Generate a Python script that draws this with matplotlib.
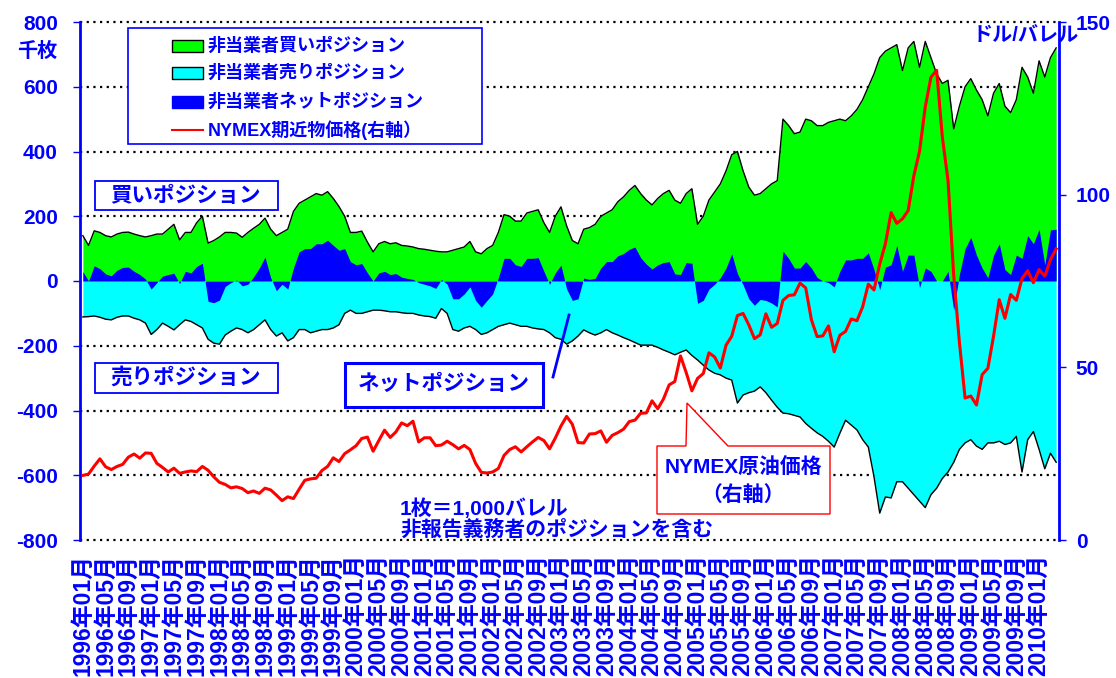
import matplotlib
matplotlib.use('Agg')
import matplotlib.pyplot as plt
from matplotlib.patches import Rectangle, Polygon
from matplotlib.lines import Line2D
import numpy as np

# ---------------- data (monthly, 1996-01 .. 2010-04), thousand contracts ----------------
long_pos = [
    140, 110, 155, 150, 140, 136, 145, 150, 151, 145, 140, 136,   # 1996
    140, 145, 145, 160, 175, 127, 150, 150, 180, 200, 117, 125,   # 1997
    136, 150, 150, 148, 135, 150, 163, 175, 194, 160, 140, 150,   # 1998
    160, 215, 240, 250, 260, 270, 265, 276, 255, 230, 200, 150,   # 1999
    150, 154, 120, 90, 115, 122, 115, 118, 110, 108, 105, 100,    # 2000
    98, 95, 92, 90, 90, 95, 100, 105, 122, 90, 84, 100,           # 2001
    110, 150, 205, 200, 185, 185, 210, 215, 220, 180, 150, 200,   # 2002
    229, 170, 125, 115, 160, 165, 175, 200, 210, 220, 245, 260,   # 2003
    280, 295, 270, 250, 235, 255, 270, 280, 250, 240, 270, 285,   # 2004
    175, 200, 250, 275, 300, 340, 390, 400, 340, 290, 265, 270,   # 2005
    285, 300, 310, 500, 480, 455, 460, 500, 495, 480, 480, 490,   # 2006
    495, 500, 495, 510, 530, 560, 600, 640, 690, 710, 720, 730,   # 2007
    650, 720, 740, 660, 740, 690, 640, 610, 620, 470, 540, 600,   # 2008
    625, 590, 560, 510, 580, 610, 540, 520, 560, 660, 630, 580,   # 2009
    680, 630, 690, 720,                                           # 2010
]
short_pos = [
    111, 110, 108, 112, 118, 120, 112, 108, 108, 115, 120, 130,
    165, 150, 130, 140, 151, 135, 120, 125, 135, 145, 180, 192,
    195, 167, 155, 145, 150, 160, 150, 135, 120, 150, 170, 160,
    185, 175, 150, 150, 160, 155, 150, 150, 145, 135, 100, 90,
    100, 100, 95, 90, 90, 92, 95, 95, 98, 100, 100, 105,
    108, 110, 115, 85, 100, 150, 155, 145, 140, 150, 165, 160,
    150, 140, 135, 130, 135, 140, 140, 145, 148, 150, 160, 175,
    180, 195, 185, 170, 151, 160, 167, 160, 150, 160, 167, 175,
    182, 190, 198, 198, 198, 205, 213, 220, 228, 220, 213, 230,
    244, 260, 275, 285, 290, 300, 306, 377, 352, 345, 340, 327,
    345, 368, 390, 408, 410, 415, 420, 440, 455, 469, 480, 495,
    513, 470, 430, 445, 460, 490, 513, 605, 717, 667, 670, 620,
    620, 640, 660, 680, 700, 660, 640, 610, 590, 560, 520, 500,
    490, 510, 520, 500, 500, 495, 505, 500, 480, 590, 490, 465,
    520, 580, 532, 560,
]
# NYMEX front-month crude price, USD/bbl
price = [
    18.7, 19.1, 21.4, 23.5, 21.2, 20.4, 21.3, 21.9, 24.0, 24.9, 23.7, 25.2,
    25.1, 22.2, 21.0, 19.7, 20.8, 19.3, 19.7, 20.0, 19.8, 21.3, 20.2, 18.3,
    16.7, 16.1, 15.1, 15.4, 14.9, 13.7, 14.2, 13.5, 15.0, 14.5, 13.0, 11.4,
    12.5, 12.0, 14.7, 17.3, 17.7, 17.9, 20.1, 21.3, 23.8, 22.7, 25.0, 26.1,
    27.3, 29.4, 29.8, 25.7, 28.8, 31.8, 29.7, 31.3, 33.9, 33.1, 34.4, 28.4,
    29.6, 29.6, 27.3, 27.5, 28.6, 27.6, 26.4, 27.4, 26.2, 22.2, 19.6, 19.4,
    19.7, 20.7, 24.5, 26.2, 27.0, 25.5, 27.0, 28.4, 29.7, 28.8, 26.4, 29.5,
    33.0, 35.8, 33.5, 28.2, 28.1, 30.7, 30.8, 31.6, 28.3, 30.3, 31.1, 32.1,
    34.3, 34.7, 36.7, 36.8, 40.3, 38.0, 40.8, 44.9, 45.9, 53.3, 48.5, 43.2,
    46.8, 48.2, 54.2, 53.0, 49.8, 56.4, 59.0, 65.0, 65.6, 62.3, 58.3, 59.4,
    65.5, 61.6, 62.7, 69.4, 70.8, 71.0, 74.4, 73.0, 63.8, 58.9, 59.1, 62.0,
    54.5, 59.3, 60.4, 64.0, 63.5, 67.5, 74.1, 72.4, 79.9, 85.8, 94.8, 91.7,
    93.0, 95.4, 105.5, 112.6, 125.4, 134.0, 136.0, 116.7, 104.1, 76.6, 57.3, 41.1,
    41.7, 39.1, 47.9, 49.7, 59.0, 69.6, 64.2, 71.1, 69.4, 75.7, 78.0, 74.5,
    78.3, 76.4, 81.2, 84.3,
]
tick_months = list(range(0, 172, 4))
tick_labels = [f"{1996 + t // 12}年{t % 12 + 1:02d}月" for t in tick_months]
left_ticks = list(range(-800, 801, 200))
right_ticks = [0, 50, 100, 150]

# ---------------- style ----------------
plt.rcParams['font.family'] = ['Liberation Sans', 'Noto Sans CJK JP']
plt.rcParams['font.weight'] = 'bold'
plt.rcParams['axes.unicode_minus'] = False
BLUE = '#0000FF'
W, H = 1116, 678

def fx(x):
    return x / W

def fy(y):
    return 1 - y / H

fig = plt.figure(figsize=(W / 100, H / 100), dpi=100)
ax = fig.add_axes([fx(80), fy(540), 979 / W, 518 / H])

m = np.arange(len(long_pos))
lp = np.array(long_pos, dtype=float)
sp = np.array(short_pos, dtype=float)
net = lp - sp

for v in left_ticks:
    if v == 0:
        continue
    ax.axhline(v, color='black', lw=1.6, ls=(0, (1, 2)), zorder=1, clip_on=False)

ax.fill_between(m, 0, lp, color='#00FF00', lw=0, zorder=2)
ax.fill_between(m, 0, -sp, color='#00FFFF', lw=0, zorder=2)
ax.fill_between(m, 0, net, color=BLUE, lw=0, zorder=3)
ax.plot(m, lp, color='black', lw=1.0, zorder=4)
ax.plot(m, -sp, color='black', lw=1.0, zorder=4)

ax.set_xlim(-0.5, len(m) - 0.5)
ax.set_ylim(-800, 800)
ax.set_yticks(left_ticks)
ax.set_yticklabels([str(v) for v in left_ticks])
ax.set_xticks(tick_months)
ax.set_xticklabels(tick_labels, rotation=90)
ax.tick_params(axis='y', colors=BLUE, labelcolor=BLUE, length=5, width=1,
               labelsize=15, pad=11)
ax.tick_params(axis='x', length=0, pad=10, labelsize=16.5, labelcolor=BLUE)
for s in ['top', 'bottom', 'right']:
    ax.spines[s].set_visible(False)
ax.spines['left'].set_color(BLUE)
ax.spines['left'].set_linewidth(2)

ax2 = ax.twinx()
ax2.plot(m, price, color='#FF0000', lw=2.2, zorder=5)
ax2.set_ylim(0, 150)
ax2.set_yticks(right_ticks)
ax2.set_yticklabels([str(v) for v in right_ticks])
ax2.tick_params(axis='y', colors=BLUE, labelcolor=BLUE, length=5, width=1,
                labelsize=15, pad=7)
for s in ['top', 'bottom', 'left']:
    ax2.spines[s].set_visible(False)
ax2.spines['right'].set_color(BLUE)
ax2.spines['right'].set_linewidth(2)

tf = fig.transFigure
txt = dict(color=BLUE, fontweight='bold', transform=tf)

# axis unit labels
fig.text(fx(37), fy(51), '千枚', ha='center', va='center', fontsize=14.5, **txt)
fig.text(fx(1026), fy(35), 'ドル/バレル', ha='center', va='center', fontsize=14.5, **txt)

# legend (drawn manually)
fig.add_artist(Rectangle((fx(128), fy(144)), (482 - 128) / W, (144 - 28) / H,
                         transform=tf, fc='white', ec=BLUE, lw=1.2, zorder=1))
rows = [46, 73, 102, 130]
leg_names = ['非当業者買いポジション', '非当業者売りポジション',
             '非当業者ネットポジション', 'NYMEX期近物価格(右軸）']
leg_fc = ['#00FF00', '#00FFFF', BLUE]
leg_ec = ['black', 'black', BLUE]
for i in range(3):
    fig.add_artist(Rectangle((fx(172), fy(rows[i] + 6)), 31 / W, 12 / H,
                             transform=tf, fc=leg_fc[i], ec=leg_ec[i], lw=1, zorder=2))
fig.add_artist(Line2D([fx(172), fx(203)], [fy(rows[3]), fy(rows[3])],
                      transform=tf, color='#FF0000', lw=1.5, zorder=2))
for r, name in zip(rows, leg_names):
    fig.text(fx(208), fy(r), name, ha='left', va='center', fontsize=13, zorder=3, **txt)

# text boxes
def box(x0, y0, x1, y1, lw):
    fig.add_artist(Rectangle((fx(x0), fy(y1)), (x1 - x0) / W, (y1 - y0) / H,
                             transform=tf, fc='white', ec=BLUE, lw=lw, zorder=1))

box(95, 181, 278, 210, 1.3)
fig.text(fx(186), fy(196), '買いポジション', ha='center', va='center', fontsize=15.5, zorder=3, **txt)
box(95, 363, 278, 393, 1.3)
fig.text(fx(186), fy(378), '売りポジション', ha='center', va='center', fontsize=15.5, zorder=3, **txt)
box(345, 363, 543, 407, 2.2)
fig.text(fx(444), fy(385), 'ネットポジション', ha='center', va='center', fontsize=15.5, zorder=3, **txt)
fig.add_artist(Line2D([fx(553), fx(569)], [fy(377), fy(315)], transform=tf,
                      color=BLUE, lw=2, zorder=2))

# callout for price
callout = [(657, 446), (686, 446), (687, 403), (728, 446), (830, 446), (830, 514), (657, 514)]
fig.add_artist(Polygon([(fx(a), fy(b)) for a, b in callout], closed=True, transform=tf,
                       fc='white', ec='#FF0000', lw=1, zorder=1))
fig.text(fx(743), fy(468), 'NYMEX原油価格', ha='center', va='center', fontsize=15, zorder=3, **txt)
fig.text(fx(743), fy(495), '（右軸）', ha='center', va='center', fontsize=15, zorder=3, **txt)

# note
fig.text(fx(400), fy(509), '1枚＝1,000バレル', ha='left', va='center', fontsize=15, zorder=3, **txt)
fig.text(fx(400), fy(530), '非報告義務者のポジションを含む', ha='left', va='center',
         fontsize=15, zorder=3, **txt)

fig.savefig('out.png', dpi=100)
